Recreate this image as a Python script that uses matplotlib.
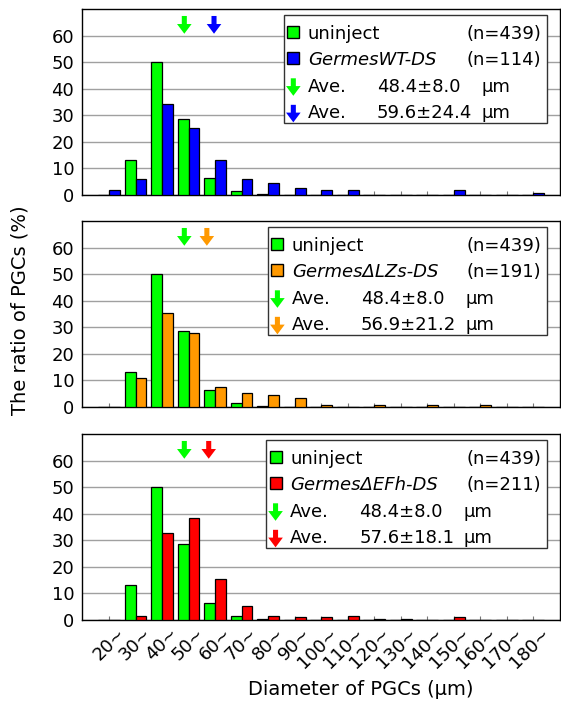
import numpy as np
import matplotlib
matplotlib.use('Agg')
from matplotlib import pyplot as plt
from matplotlib.patches import Rectangle
import matplotlib.transforms as mtransforms

# size classes (um), one bar pair per class
categories = ['20~', '30~', '40~', '50~', '60~', '70~', '80~', '90~', '100~',
              '110~', '120~', '130~', '140~', '150~', '160~', '170~', '180~']

# ratio of PGCs (%)
uninject = [0, 13.2, 50.3, 28.5, 6.4, 1.4, 0.23, 0, 0, 0, 0, 0, 0, 0, 0, 0, 0]
wt_ds = [1.8, 6.1, 34.2, 25.4, 13.2, 6.1, 4.4, 2.6, 1.8, 1.8, 0, 0, 0, 1.8, 0, 0, 0.9]
lzs_ds = [0, 11.0, 35.4, 27.9, 7.4, 5.4, 4.5, 3.5, 0.6, 0, 0.6, 0, 0.6, 0, 0.6, 0, 0]
efh_ds = [0, 1.4, 32.7, 38.4, 15.6, 5.2, 1.4, 0.95, 0.95, 1.4, 0.5, 0.5, 0, 0.95, 0, 0, 0]

series_names = ['GermesWT-DS', 'Germes\u0394LZs-DS', 'Germes\u0394EFh-DS']
series_n = [114, 191, 211]
series_mean = [59.6, 56.9, 57.6]
series_sd = [24.4, 21.2, 18.1]
uninject_n = 439
uninject_mean = 48.4
uninject_sd = 8.0

GREEN = '#00ff00'
colors = ['#0000ff', '#ff9900', '#ff0000']
legend_left = [6.6, 6.0, 5.93]

plt.rcParams['font.family'] = 'DejaVu Sans'
plt.rcParams['font.size'] = 13

fig = plt.figure(figsize=(5.61, 7.02), dpi=100)
axes_bottoms = [0.7222, 0.4202, 0.1168]


def mean_pos(m):
	# class 20~ sits at 0, one class = 10 um
	return (m - 20) / 10.0


def down_arrow(ax, x, y0, y1, color):
	ax.annotate('', xy=(x, y1), xytext=(x, y0), xycoords='data',
		arrowprops=dict(arrowstyle='simple,head_length=0.5,head_width=0.75,tail_width=0.26',
			fc=color, ec='none', shrinkA=0, shrinkB=0, mutation_scale=14),
		annotation_clip=False, zorder=7)


x = np.arange(len(categories))
w = 0.41
for i in range(3):
	ax = fig.add_axes([0.147, axes_bottoms[i], 0.851, 0.2645])
	vals = [wt_ds, lzs_ds, efh_ds][i]
	c = colors[i]
	ax.bar(x - w / 2, uninject, w, color=GREEN, edgecolor='black', linewidth=0.9, zorder=3)
	ax.bar(x + w / 2, vals, w, color=c, edgecolor='black', linewidth=0.9, zorder=3)

	ax.set_xlim(-1, len(categories))
	ax.set_ylim(0, 70)
	ax.set_yticks(range(0, 61, 10))
	ax.yaxis.grid(True, color='#a0a0a0', linewidth=1, zorder=0)
	ax.tick_params(axis='y', length=0, pad=6, labelsize=13)
	ax.set_xticks(x)
	ax.tick_params(axis='x', direction='in', length=3, color='#777777', pad=3)
	if i == 2:
		ax.set_xticklabels(categories, rotation=45, ha='right', va='top',
			rotation_mode='anchor', fontsize=13)
		shift = mtransforms.ScaledTranslation(7 / 100, 0, fig.dpi_scale_trans)
		for lab in ax.get_xticklabels():
			lab.set_transform(lab.get_transform() + shift)
	else:
		ax.set_xticklabels([])
	for s in ax.spines.values():
		s.set_linewidth(1)
		s.set_color('black')

	# mean arrows above the bars
	down_arrow(ax, mean_pos(uninject_mean), 67.5, 60.8, GREEN)
	down_arrow(ax, mean_pos(series_mean[i]), 67.5, 60.8, c)

	# legend box, drawn by hand so the counts line up on the right
	L = legend_left[i]
	ax.add_patch(Rectangle((L, 27.3), 16.53 - L, 40.7, facecolor='white',
		edgecolor='#333333', linewidth=1, zorder=5))
	ax.plot([L + 0.35], [61.5], 's', ms=8, mfc=GREEN, mec='black', mew=1, zorder=6)
	ax.plot([L + 0.35], [51.5], 's', ms=8, mfc=c, mec='black', mew=1, zorder=6)
	ax.text(L + 0.9, 59, 'uninject', zorder=6)
	ax.text(L + 0.9, 49, series_names[i], style='italic', zorder=6)
	ax.text(16.3, 59, '(n=%d)' % uninject_n, ha='right', zorder=6)
	ax.text(16.3, 49, '(n=%d)' % series_n[i], ha='right', zorder=6)
	for y, m, sd, col in [(39, uninject_mean, uninject_sd, GREEN), (29, series_mean[i], series_sd[i], c)]:
		down_arrow(ax, L + 0.35, y + 5, y - 1.6, col)
		ax.text(L + 0.9, y, 'Ave.', zorder=6)
		ax.text(L + 3.5, y, '%.1f\u00b1%.1f' % (m, sd), zorder=6)
		ax.text(L + 7.45, y, '\u03bcm', zorder=6)

fig.text(20 / 561, 1 - 310 / 702, 'The ratio of PGCs (%)', rotation=90,
	ha='center', va='center', fontsize=14)
fig.text(361 / 561, 1 - 695 / 702, 'Diameter of PGCs (\u03bcm)', ha='center',
	va='baseline', fontsize=14)

plt.savefig('out.png', dpi=100)
